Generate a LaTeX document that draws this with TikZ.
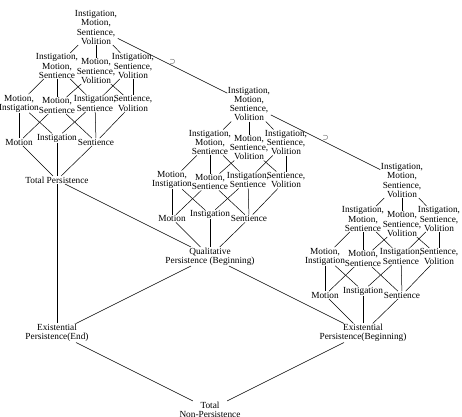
\documentclass[tikz,border=0pt]{standalone}
\usepackage{fontspec}
\setmainfont{Liberation Serif}

\begin{document}
\begin{tikzpicture}[x=1pt, y=-1pt, line width=0.5pt,
  every node/.style={align=center, inner sep=0.5pt, font=\fontsize{9.3}{9.1}\selectfont},
  subset/.style={midway, above=1pt, font=\scriptsize}]
\useasboundingbox (0,0) rectangle (462,416);

% Bottom of each lattice and the lower part
\node (b1) at (57,180) {Total Persistence};
\node (b2) at (210,256.5) {Qualitative\\Persistence (Beginning)};
\node (b3) at (363,333) {Existential\\Persistence(Beginning)};
\node (epe) at (57,333) {Existential\\Persistence(End)};
\node (tnp) at (210,409.5) {Total\\Non-Persistence};

% The three lattices
\foreach \k/\dx/\dy in {1/0/0, 2/153/76.5, 3/306/153} {
  \begin{scope}[shift={(\dx,\dy)}]
  \node (t\k) at (96,27.5) {Instigation,\\Motion,\\Sentience,\\Volition};
  \node (ims\k) at (57,66) {Instigation,\\Motion,\\Sentience};
  \node (msv\k) at (96,71) {Motion,\\Sentience,\\Volition};
  \node (isv\k) at (133,66) {Instigation,\\Sentience,\\Volition};
  \node (mi\k) at (19,103.5) {Motion,\\Instigation};
  \node (ms\k) at (57,105.5) {Motion,\\Sentience};
  \node (is\k) at (95,103.5) {Instigation,\\Sentience};
  \node (sv\k) at (133,103.5) {Sentience,\\Volition};
  \node (m\k) at (19,142) {Motion};
  \node (i\k) at (57,138) {Instigation};
  \node (s\k) at (96,142) {Sentience};
  \end{scope}
  \draw (t\k) -- (ims\k);
  \draw (t\k) -- (msv\k);
  \draw (t\k) -- (isv\k);
  \draw (ims\k) -- (mi\k);
  \draw (ims\k) -- (ms\k);
  \draw (ims\k) -- (is\k);
  \draw (msv\k) -- (ms\k);
  \draw (msv\k) -- (sv\k);
  \draw (isv\k) -- (is\k);
  \draw (isv\k) -- (sv\k);
  \draw (mi\k) -- (m\k);
  \draw (mi\k) -- (i\k);
  \draw (ms\k) -- (m\k);
  \draw (ms\k) -- (s\k);
  \draw (is\k) -- (i\k);
  \draw (is\k) -- (s\k);
  \draw (sv\k) -- (s\k);
  \draw (m\k) -- (b\k);
  \draw (i\k) -- (b\k);
  \draw (s\k) -- (b\k);
}

% Links between lattices
\draw (t1) -- (t2) node [subset] {$\supset$};
\draw (t2) -- (t3) node [subset] {$\supset$};
\draw (b1) -- (b2);
\draw (b1) -- (epe);
\draw (b2) -- (epe);
\draw (b2) -- (b3);
\draw (epe) -- (tnp);
\draw (b3) -- (tnp);
\end{tikzpicture}
\end{document}
